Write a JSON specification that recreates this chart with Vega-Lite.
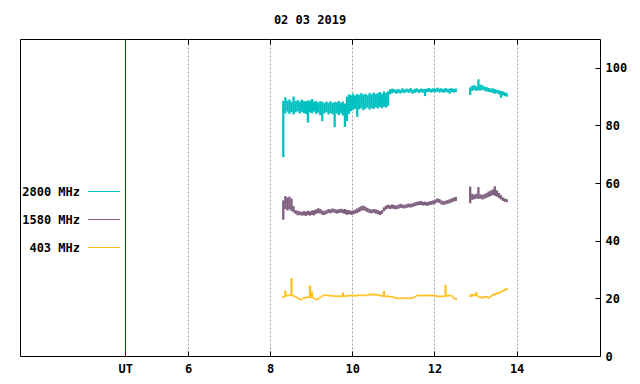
{
  "$schema": "https://vega.github.io/schema/vega-lite/v6.json",
  "width": 580,
  "height": 317,
  "autosize": {"type": "none"},
  "padding": {"left": 20, "top": 39, "right": 40, "bottom": 28},
  "background": "white",
  "title": {"text": "02 03 2019", "font": "DejaVu Sans Mono", "fontSize": 12, "fontWeight": "bold", "anchor": "middle", "offset": 12, "color": "black"},
  "config": {
    "view": {"stroke": "black", "strokeWidth": 1},
    "legend": {
      "orient": "none", "legendX": 67.5, "legendY": 136, "title": null,
      "symbolType": "stroke", "symbolSize": 1024, "symbolStrokeWidth": 1,
      "labelAlign": "right", "labelOffset": -40.5,
      "labelFont": "DejaVu Sans Mono", "labelFontWeight": "bold", "labelFontSize": 12, "labelColor": "black",
      "rowPadding": 5, "padding": 0
    }
  },
  "data": {"values": [
    {"s":"2800 MHz","t":8.32,"lo":69,"hi":88.5},
    {"s":"2800 MHz","t":8.37,"lo":84.2,"hi":89.8},
    {"s":"2800 MHz","t":8.42,"lo":84.8,"hi":88.6},
    {"s":"2800 MHz","t":8.47,"lo":84.0,"hi":89.0},
    {"s":"2800 MHz","t":8.52,"lo":84.6,"hi":88.2},
    {"s":"2800 MHz","t":8.57,"lo":83.8,"hi":90.0},
    {"s":"2800 MHz","t":8.62,"lo":84.5,"hi":88.4},
    {"s":"2800 MHz","t":8.67,"lo":84.9,"hi":88.8},
    {"s":"2800 MHz","t":8.72,"lo":84.1,"hi":88.3},
    {"s":"2800 MHz","t":8.77,"lo":84.7,"hi":89.0},
    {"s":"2800 MHz","t":8.82,"lo":84.3,"hi":88.5},
    {"s":"2800 MHz","t":8.87,"lo":84.0,"hi":88.4},
    {"s":"2800 MHz","t":8.92,"lo":81.0,"hi":88.7},
    {"s":"2800 MHz","t":8.97,"lo":84.5,"hi":88.6},
    {"s":"2800 MHz","t":9.02,"lo":84.2,"hi":89.2},
    {"s":"2800 MHz","t":9.07,"lo":84.8,"hi":88.3},
    {"s":"2800 MHz","t":9.12,"lo":84.0,"hi":88.5},
    {"s":"2800 MHz","t":9.17,"lo":84.4,"hi":88.0},
    {"s":"2800 MHz","t":9.22,"lo":83.5,"hi":88.4},
    {"s":"2800 MHz","t":9.27,"lo":81.5,"hi":88.2},
    {"s":"2800 MHz","t":9.32,"lo":84.2,"hi":87.8},
    {"s":"2800 MHz","t":9.37,"lo":84.6,"hi":88.3},
    {"s":"2800 MHz","t":9.42,"lo":83.8,"hi":87.9},
    {"s":"2800 MHz","t":9.47,"lo":84.3,"hi":88.4},
    {"s":"2800 MHz","t":9.52,"lo":83.9,"hi":87.8},
    {"s":"2800 MHz","t":9.57,"lo":79.4,"hi":88.2},
    {"s":"2800 MHz","t":9.62,"lo":84.1,"hi":88.0},
    {"s":"2800 MHz","t":9.67,"lo":83.6,"hi":88.5},
    {"s":"2800 MHz","t":9.72,"lo":84.2,"hi":87.9},
    {"s":"2800 MHz","t":9.77,"lo":83.5,"hi":88.3},
    {"s":"2800 MHz","t":9.82,"lo":79.5,"hi":87.6},
    {"s":"2800 MHz","t":9.87,"lo":81.5,"hi":90.0},
    {"s":"2800 MHz","t":9.92,"lo":84.0,"hi":90.8},
    {"s":"2800 MHz","t":9.97,"lo":85.0,"hi":90.5},
    {"s":"2800 MHz","t":10.02,"lo":85.4,"hi":91.0},
    {"s":"2800 MHz","t":10.07,"lo":85.8,"hi":90.4},
    {"s":"2800 MHz","t":10.12,"lo":83.0,"hi":90.9},
    {"s":"2800 MHz","t":10.17,"lo":85.6,"hi":90.6},
    {"s":"2800 MHz","t":10.22,"lo":86.0,"hi":91.2},
    {"s":"2800 MHz","t":10.27,"lo":85.3,"hi":90.7},
    {"s":"2800 MHz","t":10.32,"lo":85.8,"hi":91.0},
    {"s":"2800 MHz","t":10.37,"lo":86.2,"hi":90.5},
    {"s":"2800 MHz","t":10.42,"lo":85.5,"hi":91.3},
    {"s":"2800 MHz","t":10.47,"lo":86.0,"hi":90.8},
    {"s":"2800 MHz","t":10.52,"lo":85.7,"hi":91.4},
    {"s":"2800 MHz","t":10.57,"lo":86.3,"hi":90.9},
    {"s":"2800 MHz","t":10.62,"lo":85.9,"hi":91.2},
    {"s":"2800 MHz","t":10.67,"lo":86.4,"hi":91.6},
    {"s":"2800 MHz","t":10.72,"lo":86.0,"hi":91.0},
    {"s":"2800 MHz","t":10.77,"lo":86.5,"hi":91.8},
    {"s":"2800 MHz","t":10.82,"lo":86.2,"hi":91.3},
    {"s":"2800 MHz","t":10.87,"lo":86.8,"hi":91.9},
    {"s":"2800 MHz","t":10.92,"lo":90.8,"hi":92.6},
    {"s":"2800 MHz","t":10.97,"lo":91.2,"hi":92.8},
    {"s":"2800 MHz","t":11.02,"lo":91.4,"hi":92.6},
    {"s":"2800 MHz","t":11.07,"lo":91.0,"hi":92.4},
    {"s":"2800 MHz","t":11.12,"lo":91.3,"hi":92.7},
    {"s":"2800 MHz","t":11.17,"lo":91.1,"hi":92.3},
    {"s":"2800 MHz","t":11.22,"lo":91.4,"hi":92.9},
    {"s":"2800 MHz","t":11.27,"lo":91.2,"hi":92.5},
    {"s":"2800 MHz","t":11.32,"lo":91.6,"hi":92.8},
    {"s":"2800 MHz","t":11.37,"lo":91.3,"hi":92.6},
    {"s":"2800 MHz","t":11.42,"lo":91.5,"hi":93.0},
    {"s":"2800 MHz","t":11.47,"lo":91.0,"hi":92.4},
    {"s":"2800 MHz","t":11.52,"lo":91.3,"hi":92.7},
    {"s":"2800 MHz","t":11.57,"lo":91.6,"hi":92.9},
    {"s":"2800 MHz","t":11.62,"lo":91.2,"hi":92.5},
    {"s":"2800 MHz","t":11.67,"lo":91.5,"hi":92.8},
    {"s":"2800 MHz","t":11.72,"lo":91.4,"hi":92.6},
    {"s":"2800 MHz","t":11.77,"lo":90.2,"hi":92.7},
    {"s":"2800 MHz","t":11.82,"lo":91.5,"hi":92.8},
    {"s":"2800 MHz","t":11.87,"lo":91.7,"hi":93.0},
    {"s":"2800 MHz","t":11.92,"lo":91.4,"hi":92.6},
    {"s":"2800 MHz","t":11.97,"lo":91.6,"hi":92.9},
    {"s":"2800 MHz","t":12.02,"lo":91.5,"hi":92.7},
    {"s":"2800 MHz","t":12.07,"lo":91.7,"hi":93.1},
    {"s":"2800 MHz","t":12.12,"lo":91.4,"hi":92.8},
    {"s":"2800 MHz","t":12.17,"lo":91.6,"hi":92.9},
    {"s":"2800 MHz","t":12.22,"lo":91.3,"hi":92.6},
    {"s":"2800 MHz","t":12.27,"lo":91.6,"hi":93.0},
    {"s":"2800 MHz","t":12.32,"lo":91.5,"hi":92.7},
    {"s":"2800 MHz","t":12.37,"lo":91.0,"hi":92.8},
    {"s":"2800 MHz","t":12.42,"lo":91.6,"hi":92.9},
    {"s":"2800 MHz","t":12.47,"lo":91.4,"hi":92.7},
    {"s":"2800 MHz","t":12.52,"lo":91.6,"hi":92.8},
    {"s":"2800 MHz","t":12.87,"lo":90.6,"hi":93.2},
    {"s":"2800 MHz","t":12.92,"lo":92.0,"hi":93.8},
    {"s":"2800 MHz","t":12.97,"lo":92.3,"hi":94.0},
    {"s":"2800 MHz","t":13.02,"lo":92.0,"hi":93.6},
    {"s":"2800 MHz","t":13.07,"lo":92.2,"hi":96.0},
    {"s":"2800 MHz","t":13.12,"lo":92.1,"hi":94.2},
    {"s":"2800 MHz","t":13.17,"lo":92.4,"hi":93.9},
    {"s":"2800 MHz","t":13.22,"lo":92.0,"hi":93.5},
    {"s":"2800 MHz","t":13.27,"lo":91.8,"hi":93.3},
    {"s":"2800 MHz","t":13.32,"lo":91.6,"hi":93.0},
    {"s":"2800 MHz","t":13.37,"lo":91.5,"hi":92.8},
    {"s":"2800 MHz","t":13.42,"lo":91.3,"hi":92.9},
    {"s":"2800 MHz","t":13.47,"lo":91.0,"hi":92.6},
    {"s":"2800 MHz","t":13.52,"lo":91.2,"hi":92.4},
    {"s":"2800 MHz","t":13.57,"lo":90.8,"hi":92.2},
    {"s":"2800 MHz","t":13.62,"lo":89.6,"hi":92.0},
    {"s":"2800 MHz","t":13.67,"lo":90.4,"hi":91.8},
    {"s":"2800 MHz","t":13.72,"lo":90.2,"hi":91.5},
    {"s":"2800 MHz","t":13.76,"lo":90.0,"hi":91.2},

    {"s":"1580 MHz","t":8.32,"lo":47.3,"hi":54.0},
    {"s":"1580 MHz","t":8.37,"lo":51.0,"hi":55.5},
    {"s":"1580 MHz","t":8.42,"lo":50.5,"hi":55.0},
    {"s":"1580 MHz","t":8.47,"lo":50.8,"hi":55.3},
    {"s":"1580 MHz","t":8.52,"lo":50.3,"hi":54.6},
    {"s":"1580 MHz","t":8.57,"lo":49.8,"hi":52.0},
    {"s":"1580 MHz","t":8.62,"lo":49.3,"hi":50.6},
    {"s":"1580 MHz","t":8.67,"lo":48.8,"hi":50.4},
    {"s":"1580 MHz","t":8.72,"lo":48.9,"hi":50.2},
    {"s":"1580 MHz","t":8.77,"lo":48.7,"hi":50.0},
    {"s":"1580 MHz","t":8.82,"lo":48.8,"hi":50.3},
    {"s":"1580 MHz","t":8.87,"lo":48.6,"hi":50.1},
    {"s":"1580 MHz","t":8.92,"lo":48.9,"hi":50.4},
    {"s":"1580 MHz","t":8.97,"lo":48.7,"hi":50.2},
    {"s":"1580 MHz","t":9.02,"lo":49.0,"hi":50.5},
    {"s":"1580 MHz","t":9.07,"lo":48.8,"hi":50.6},
    {"s":"1580 MHz","t":9.12,"lo":49.3,"hi":50.9},
    {"s":"1580 MHz","t":9.17,"lo":49.6,"hi":51.3},
    {"s":"1580 MHz","t":9.22,"lo":49.4,"hi":51.0},
    {"s":"1580 MHz","t":9.27,"lo":49.0,"hi":50.5},
    {"s":"1580 MHz","t":9.32,"lo":48.9,"hi":50.3},
    {"s":"1580 MHz","t":9.37,"lo":49.3,"hi":50.6},
    {"s":"1580 MHz","t":9.42,"lo":49.6,"hi":51.0},
    {"s":"1580 MHz","t":9.47,"lo":49.5,"hi":50.9},
    {"s":"1580 MHz","t":9.52,"lo":49.8,"hi":51.2},
    {"s":"1580 MHz","t":9.57,"lo":49.7,"hi":51.0},
    {"s":"1580 MHz","t":9.62,"lo":49.4,"hi":50.8},
    {"s":"1580 MHz","t":9.67,"lo":49.6,"hi":50.9},
    {"s":"1580 MHz","t":9.72,"lo":49.8,"hi":51.1},
    {"s":"1580 MHz","t":9.77,"lo":49.5,"hi":50.9},
    {"s":"1580 MHz","t":9.82,"lo":49.3,"hi":51.0},
    {"s":"1580 MHz","t":9.87,"lo":49.0,"hi":50.7},
    {"s":"1580 MHz","t":9.92,"lo":49.2,"hi":50.6},
    {"s":"1580 MHz","t":9.97,"lo":49.0,"hi":50.4},
    {"s":"1580 MHz","t":10.02,"lo":49.1,"hi":50.5},
    {"s":"1580 MHz","t":10.07,"lo":49.4,"hi":50.8},
    {"s":"1580 MHz","t":10.12,"lo":49.6,"hi":51.2},
    {"s":"1580 MHz","t":10.17,"lo":50.0,"hi":51.6},
    {"s":"1580 MHz","t":10.22,"lo":50.4,"hi":52.0},
    {"s":"1580 MHz","t":10.27,"lo":50.6,"hi":52.2},
    {"s":"1580 MHz","t":10.32,"lo":50.3,"hi":51.8},
    {"s":"1580 MHz","t":10.37,"lo":49.9,"hi":51.4},
    {"s":"1580 MHz","t":10.42,"lo":49.6,"hi":51.0},
    {"s":"1580 MHz","t":10.47,"lo":49.5,"hi":50.8},
    {"s":"1580 MHz","t":10.52,"lo":49.7,"hi":51.0},
    {"s":"1580 MHz","t":10.57,"lo":49.4,"hi":50.9},
    {"s":"1580 MHz","t":10.62,"lo":49.2,"hi":50.7},
    {"s":"1580 MHz","t":10.67,"lo":48.9,"hi":50.3},
    {"s":"1580 MHz","t":10.72,"lo":49.3,"hi":50.6},
    {"s":"1580 MHz","t":10.77,"lo":50.2,"hi":51.6},
    {"s":"1580 MHz","t":10.82,"lo":50.8,"hi":52.2},
    {"s":"1580 MHz","t":10.87,"lo":51.2,"hi":52.5},
    {"s":"1580 MHz","t":10.92,"lo":51.0,"hi":52.3},
    {"s":"1580 MHz","t":10.97,"lo":51.2,"hi":52.6},
    {"s":"1580 MHz","t":11.02,"lo":51.0,"hi":52.4},
    {"s":"1580 MHz","t":11.07,"lo":50.9,"hi":52.2},
    {"s":"1580 MHz","t":11.12,"lo":51.1,"hi":52.5},
    {"s":"1580 MHz","t":11.17,"lo":51.4,"hi":52.8},
    {"s":"1580 MHz","t":11.22,"lo":51.3,"hi":52.6},
    {"s":"1580 MHz","t":11.27,"lo":51.2,"hi":52.4},
    {"s":"1580 MHz","t":11.32,"lo":51.4,"hi":52.7},
    {"s":"1580 MHz","t":11.37,"lo":51.6,"hi":52.9},
    {"s":"1580 MHz","t":11.42,"lo":51.5,"hi":52.8},
    {"s":"1580 MHz","t":11.47,"lo":51.7,"hi":53.0},
    {"s":"1580 MHz","t":11.52,"lo":52.0,"hi":53.3},
    {"s":"1580 MHz","t":11.57,"lo":52.2,"hi":53.5},
    {"s":"1580 MHz","t":11.62,"lo":52.3,"hi":53.6},
    {"s":"1580 MHz","t":11.67,"lo":52.4,"hi":53.8},
    {"s":"1580 MHz","t":11.72,"lo":52.2,"hi":53.5},
    {"s":"1580 MHz","t":11.77,"lo":52.3,"hi":53.6},
    {"s":"1580 MHz","t":11.82,"lo":52.1,"hi":53.4},
    {"s":"1580 MHz","t":11.87,"lo":52.3,"hi":53.6},
    {"s":"1580 MHz","t":11.92,"lo":52.5,"hi":53.8},
    {"s":"1580 MHz","t":11.97,"lo":52.6,"hi":54.0},
    {"s":"1580 MHz","t":12.02,"lo":52.9,"hi":54.3},
    {"s":"1580 MHz","t":12.07,"lo":53.3,"hi":54.7},
    {"s":"1580 MHz","t":12.12,"lo":53.1,"hi":54.5},
    {"s":"1580 MHz","t":12.17,"lo":52.6,"hi":54.0},
    {"s":"1580 MHz","t":12.22,"lo":52.4,"hi":53.7},
    {"s":"1580 MHz","t":12.27,"lo":52.6,"hi":53.9},
    {"s":"1580 MHz","t":12.32,"lo":52.8,"hi":54.1},
    {"s":"1580 MHz","t":12.37,"lo":53.0,"hi":54.4},
    {"s":"1580 MHz","t":12.42,"lo":53.3,"hi":54.7},
    {"s":"1580 MHz","t":12.47,"lo":53.6,"hi":55.0},
    {"s":"1580 MHz","t":12.52,"lo":53.8,"hi":55.2},
    {"s":"1580 MHz","t":12.87,"lo":53.0,"hi":58.8},
    {"s":"1580 MHz","t":12.92,"lo":54.2,"hi":56.3},
    {"s":"1580 MHz","t":12.97,"lo":54.4,"hi":56.0},
    {"s":"1580 MHz","t":13.02,"lo":54.6,"hi":56.3},
    {"s":"1580 MHz","t":13.07,"lo":54.5,"hi":58.6},
    {"s":"1580 MHz","t":13.12,"lo":54.6,"hi":56.1},
    {"s":"1580 MHz","t":13.17,"lo":54.3,"hi":55.9},
    {"s":"1580 MHz","t":13.22,"lo":54.6,"hi":56.2},
    {"s":"1580 MHz","t":13.27,"lo":54.9,"hi":56.6},
    {"s":"1580 MHz","t":13.32,"lo":55.2,"hi":57.1},
    {"s":"1580 MHz","t":13.37,"lo":55.5,"hi":57.4},
    {"s":"1580 MHz","t":13.42,"lo":55.8,"hi":57.8},
    {"s":"1580 MHz","t":13.47,"lo":55.6,"hi":58.9},
    {"s":"1580 MHz","t":13.52,"lo":55.3,"hi":57.5},
    {"s":"1580 MHz","t":13.57,"lo":54.8,"hi":56.6},
    {"s":"1580 MHz","t":13.62,"lo":54.3,"hi":55.8},
    {"s":"1580 MHz","t":13.67,"lo":53.8,"hi":55.0},
    {"s":"1580 MHz","t":13.72,"lo":53.5,"hi":54.6},
    {"s":"1580 MHz","t":13.76,"lo":53.4,"hi":54.4},

    {"s":"403 MHz","t":8.32,"lo":20.1,"hi":20.8},
    {"s":"403 MHz","t":8.37,"lo":20.4,"hi":22.7},
    {"s":"403 MHz","t":8.42,"lo":20.7,"hi":21.3},
    {"s":"403 MHz","t":8.47,"lo":20.8,"hi":21.4},
    {"s":"403 MHz","t":8.52,"lo":20.7,"hi":27.0},
    {"s":"403 MHz","t":8.57,"lo":20.6,"hi":21.2},
    {"s":"403 MHz","t":8.62,"lo":20.2,"hi":20.9},
    {"s":"403 MHz","t":8.67,"lo":19.8,"hi":20.4},
    {"s":"403 MHz","t":8.72,"lo":19.4,"hi":20.0},
    {"s":"403 MHz","t":8.77,"lo":19.3,"hi":19.9},
    {"s":"403 MHz","t":8.82,"lo":19.8,"hi":20.4},
    {"s":"403 MHz","t":8.87,"lo":20.0,"hi":20.6},
    {"s":"403 MHz","t":8.92,"lo":20.1,"hi":20.7},
    {"s":"403 MHz","t":8.97,"lo":20.2,"hi":24.5},
    {"s":"403 MHz","t":9.02,"lo":20.0,"hi":22.4},
    {"s":"403 MHz","t":9.07,"lo":19.7,"hi":20.3},
    {"s":"403 MHz","t":9.12,"lo":19.3,"hi":19.9},
    {"s":"403 MHz","t":9.17,"lo":19.5,"hi":20.1},
    {"s":"403 MHz","t":9.22,"lo":20.0,"hi":20.6},
    {"s":"403 MHz","t":9.27,"lo":20.5,"hi":21.1},
    {"s":"403 MHz","t":9.32,"lo":20.8,"hi":21.4},
    {"s":"403 MHz","t":9.37,"lo":20.8,"hi":21.4},
    {"s":"403 MHz","t":9.42,"lo":20.7,"hi":21.3},
    {"s":"403 MHz","t":9.47,"lo":20.6,"hi":21.2},
    {"s":"403 MHz","t":9.52,"lo":20.5,"hi":21.1},
    {"s":"403 MHz","t":9.57,"lo":20.5,"hi":21.1},
    {"s":"403 MHz","t":9.62,"lo":20.4,"hi":21.0},
    {"s":"403 MHz","t":9.67,"lo":20.5,"hi":21.1},
    {"s":"403 MHz","t":9.72,"lo":20.4,"hi":21.0},
    {"s":"403 MHz","t":9.77,"lo":20.5,"hi":22.0},
    {"s":"403 MHz","t":9.82,"lo":20.5,"hi":21.1},
    {"s":"403 MHz","t":9.87,"lo":20.6,"hi":21.2},
    {"s":"403 MHz","t":9.92,"lo":20.6,"hi":21.2},
    {"s":"403 MHz","t":9.97,"lo":20.7,"hi":21.3},
    {"s":"403 MHz","t":10.02,"lo":20.7,"hi":21.3},
    {"s":"403 MHz","t":10.07,"lo":20.6,"hi":21.2},
    {"s":"403 MHz","t":10.12,"lo":20.7,"hi":21.3},
    {"s":"403 MHz","t":10.17,"lo":20.8,"hi":21.4},
    {"s":"403 MHz","t":10.22,"lo":20.7,"hi":21.3},
    {"s":"403 MHz","t":10.27,"lo":20.8,"hi":21.4},
    {"s":"403 MHz","t":10.32,"lo":20.7,"hi":21.3},
    {"s":"403 MHz","t":10.37,"lo":20.9,"hi":21.5},
    {"s":"403 MHz","t":10.42,"lo":21.0,"hi":21.7},
    {"s":"403 MHz","t":10.47,"lo":20.9,"hi":21.6},
    {"s":"403 MHz","t":10.52,"lo":21.0,"hi":21.6},
    {"s":"403 MHz","t":10.57,"lo":21.0,"hi":21.7},
    {"s":"403 MHz","t":10.62,"lo":20.9,"hi":21.5},
    {"s":"403 MHz","t":10.67,"lo":20.7,"hi":21.3},
    {"s":"403 MHz","t":10.72,"lo":20.6,"hi":21.2},
    {"s":"403 MHz","t":10.77,"lo":20.5,"hi":22.6},
    {"s":"403 MHz","t":10.82,"lo":20.4,"hi":21.0},
    {"s":"403 MHz","t":10.87,"lo":20.4,"hi":21.0},
    {"s":"403 MHz","t":10.92,"lo":20.3,"hi":20.9},
    {"s":"403 MHz","t":10.97,"lo":20.2,"hi":20.8},
    {"s":"403 MHz","t":11.02,"lo":20.0,"hi":20.6},
    {"s":"403 MHz","t":11.07,"lo":19.8,"hi":20.4},
    {"s":"403 MHz","t":11.12,"lo":19.7,"hi":20.3},
    {"s":"403 MHz","t":11.17,"lo":19.7,"hi":20.3},
    {"s":"403 MHz","t":11.22,"lo":19.8,"hi":20.4},
    {"s":"403 MHz","t":11.27,"lo":19.7,"hi":20.3},
    {"s":"403 MHz","t":11.32,"lo":19.8,"hi":20.4},
    {"s":"403 MHz","t":11.37,"lo":19.7,"hi":20.3},
    {"s":"403 MHz","t":11.42,"lo":19.8,"hi":20.4},
    {"s":"403 MHz","t":11.47,"lo":19.9,"hi":20.5},
    {"s":"403 MHz","t":11.52,"lo":20.2,"hi":20.8},
    {"s":"403 MHz","t":11.57,"lo":20.6,"hi":21.2},
    {"s":"403 MHz","t":11.62,"lo":20.7,"hi":21.3},
    {"s":"403 MHz","t":11.67,"lo":20.7,"hi":21.3},
    {"s":"403 MHz","t":11.72,"lo":20.7,"hi":21.3},
    {"s":"403 MHz","t":11.77,"lo":20.7,"hi":21.3},
    {"s":"403 MHz","t":11.82,"lo":20.7,"hi":21.3},
    {"s":"403 MHz","t":11.87,"lo":20.7,"hi":21.3},
    {"s":"403 MHz","t":11.92,"lo":20.7,"hi":21.3},
    {"s":"403 MHz","t":11.97,"lo":20.7,"hi":21.3},
    {"s":"403 MHz","t":12.02,"lo":20.6,"hi":21.2},
    {"s":"403 MHz","t":12.07,"lo":20.4,"hi":21.0},
    {"s":"403 MHz","t":12.12,"lo":20.4,"hi":21.0},
    {"s":"403 MHz","t":12.17,"lo":20.4,"hi":21.0},
    {"s":"403 MHz","t":12.22,"lo":20.4,"hi":21.0},
    {"s":"403 MHz","t":12.27,"lo":20.5,"hi":24.7},
    {"s":"403 MHz","t":12.32,"lo":20.6,"hi":21.2},
    {"s":"403 MHz","t":12.37,"lo":20.7,"hi":21.3},
    {"s":"403 MHz","t":12.42,"lo":20.5,"hi":21.1},
    {"s":"403 MHz","t":12.47,"lo":19.8,"hi":20.5},
    {"s":"403 MHz","t":12.52,"lo":19.4,"hi":20.1},
    {"s":"403 MHz","t":12.87,"lo":20.5,"hi":21.3},
    {"s":"403 MHz","t":12.92,"lo":20.6,"hi":21.6},
    {"s":"403 MHz","t":12.97,"lo":20.8,"hi":21.5},
    {"s":"403 MHz","t":13.02,"lo":20.7,"hi":22.2},
    {"s":"403 MHz","t":13.07,"lo":20.4,"hi":21.0},
    {"s":"403 MHz","t":13.12,"lo":20.0,"hi":20.7},
    {"s":"403 MHz","t":13.17,"lo":19.9,"hi":20.6},
    {"s":"403 MHz","t":13.22,"lo":20.1,"hi":20.8},
    {"s":"403 MHz","t":13.27,"lo":20.2,"hi":20.9},
    {"s":"403 MHz","t":13.32,"lo":19.9,"hi":20.6},
    {"s":"403 MHz","t":13.37,"lo":20.3,"hi":21.0},
    {"s":"403 MHz","t":13.42,"lo":20.8,"hi":21.5},
    {"s":"403 MHz","t":13.47,"lo":21.1,"hi":21.8},
    {"s":"403 MHz","t":13.52,"lo":21.3,"hi":22.0},
    {"s":"403 MHz","t":13.57,"lo":21.5,"hi":22.2},
    {"s":"403 MHz","t":13.62,"lo":21.9,"hi":22.6},
    {"s":"403 MHz","t":13.67,"lo":22.3,"hi":23.0},
    {"s":"403 MHz","t":13.72,"lo":22.6,"hi":23.3},
    {"s":"403 MHz","t":13.76,"lo":22.9,"hi":23.5}
  ]},
  "resolve": {"axis": {"x": "independent", "y": "independent"}},
  "layer": [
    {
      "transform": [{"filter": "datum.s != '403 MHz'"}],
      "mark": {"type": "rule", "strokeWidth": 2.3},
      "encoding": {
        "x": {"field": "t", "type": "quantitative",
          "scale": {"domain": [1.91, 16.03], "nice": false, "zero": false},
          "axis": {"orient": "bottom", "values": [4.47, 6, 8, 10, 12, 14],
            "labelExpr": "datum.value < 5 ? 'UT' : format(datum.value, 'd')",
            "grid": true,
            "gridColor": {"condition": {"test": "datum.value < 5", "value": "#8b0000"}, "value": "#a0a0a0"},
            "gridDash": {"condition": {"test": "datum.value < 5", "value": []}, "value": [2, 2]},
            "gridWidth": 1,
            "tickColor": {"condition": {"test": "datum.value < 5", "value": "#8b0000"}, "value": "black"},
            "tickSize": -5, "labelPadding": 12, "domain": false, "title": null,
            "labelFont": "DejaVu Sans Mono", "labelFontWeight": "bold", "labelFontSize": 12, "labelColor": "black",
            "labelFlush": false, "labelOverlap": false}},
        "y": {"field": "lo", "type": "quantitative",
          "scale": {"domain": [0, 110], "nice": false, "zero": false},
          "axis": {"orient": "right", "values": [0, 20, 40, 60, 80, 100], "grid": false, "domain": false,
            "tickSize": -5, "tickColor": "black", "labelPadding": 10, "title": null,
            "labelFont": "DejaVu Sans Mono", "labelFontWeight": "bold", "labelFontSize": 12, "labelColor": "black",
            "labelFlush": false, "labelOverlap": false}},
        "y2": {"field": "hi"},
        "color": {"field": "s", "type": "nominal",
          "scale": {"domain": ["2800 MHz", "1580 MHz", "403 MHz"], "range": ["#00c0c0", "#7f5f7f", "#ffc020"]}}
      }
    },
    {
      "transform": [{"filter": "datum.s == '403 MHz'"}],
      "mark": {"type": "rule", "strokeWidth": 2.3},
      "encoding": {
        "x": {"field": "t", "type": "quantitative",
          "scale": {"domain": [1.91, 16.03], "nice": false, "zero": false},
          "axis": {"orient": "top", "values": [6, 8, 10, 12, 14], "labels": false, "grid": false, "domain": false,
            "tickSize": -5, "tickColor": "black", "title": null}},
        "y": {"field": "lo", "type": "quantitative",
          "scale": {"domain": [0, 110], "nice": false, "zero": false},
          "axis": null},
        "y2": {"field": "hi"},
        "color": {"field": "s", "type": "nominal",
          "scale": {"domain": ["2800 MHz", "1580 MHz", "403 MHz"], "range": ["#00c0c0", "#7f5f7f", "#ffc020"]}}
      }
    }
  ]
}
